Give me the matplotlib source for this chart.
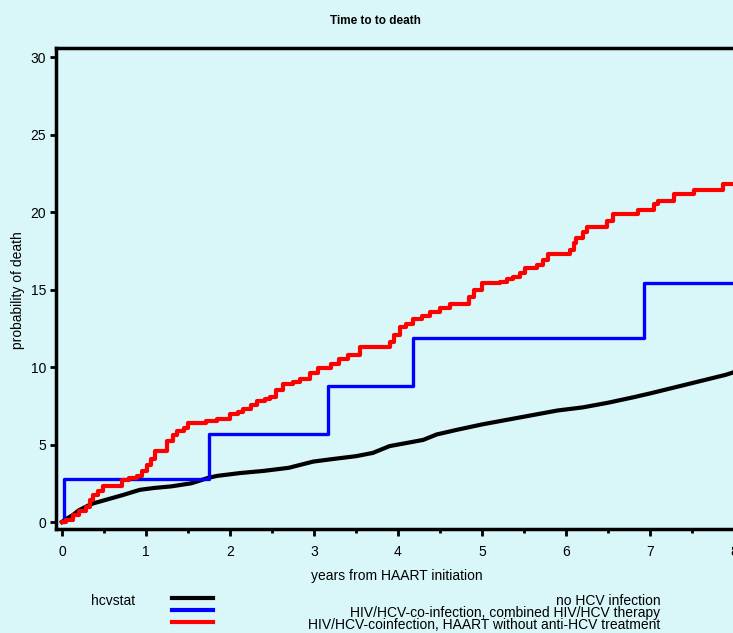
import matplotlib
matplotlib.use("Agg")
import matplotlib.pyplot as plt
from matplotlib.lines import Line2D

plt.rcParams['font.family'] = ['Liberation Sans', 'DejaVu Sans']

# Kaplan-Meier style curves (years, %)
no_hcv_t = [0, 0.05, 0.13, 0.2, 0.29, 0.37, 0.45, 0.6, 0.73, 0.85, 0.93, 1.1, 1.3,
            1.54, 1.6, 1.74, 1.85, 2.12, 2.4, 2.7, 2.99, 3.2, 3.5, 3.7, 3.9, 4.1,
            4.3, 4.46, 4.7, 5.0, 5.3, 5.6, 5.9, 6.2, 6.5, 6.8, 7.0, 7.3, 7.6, 7.9, 8.1]
no_hcv_p = [0, 0.2, 0.45, 0.75, 1.0, 1.2, 1.32, 1.55, 1.75, 1.95, 2.08, 2.2, 2.3,
            2.5, 2.6, 2.85, 2.98, 3.16, 3.3, 3.5, 3.9, 4.05, 4.25, 4.46, 4.9, 5.1,
            5.3, 5.65, 5.95, 6.3, 6.6, 6.9, 7.2, 7.4, 7.7, 8.05, 8.3, 8.7, 9.1, 9.5, 9.85]

combined_t = [0, 0.03, 1.75, 3.17, 4.18, 6.93, 8.2]
combined_p = [0, 2.8, 5.65, 8.75, 11.85, 15.4, 15.4]

haart_t = [0, 0.05, 0.13, 0.2, 0.29, 0.33, 0.37, 0.43, 0.49, 0.71, 0.8, 0.89, 0.95,
           1.01, 1.06, 1.11, 1.25, 1.32, 1.37, 1.45, 1.5, 1.72, 1.85, 2.0, 2.1, 2.16,
           2.25, 2.32, 2.42, 2.48, 2.55, 2.63, 2.75, 2.83, 2.95, 3.05, 3.2, 3.3, 3.4,
           3.55, 3.9, 3.95, 4.02, 4.1, 4.18, 4.28, 4.38, 4.5, 4.62, 4.84, 4.9, 5.0,
           5.21, 5.3, 5.37, 5.45, 5.51, 5.65, 5.72, 5.79, 6.05, 6.09, 6.12, 6.2, 6.25,
           6.49, 6.56, 6.86, 7.05, 7.1, 7.28, 7.52, 7.87, 8.2]
haart_p = [0, 0.15, 0.45, 0.7, 1.0, 1.4, 1.75, 2.0, 2.3, 2.7, 2.85, 2.95, 3.3,
           3.7, 4.1, 4.56, 5.2, 5.6, 5.86, 6.1, 6.4, 6.5, 6.65, 6.95, 7.1, 7.27,
           7.55, 7.8, 7.95, 8.1, 8.5, 8.9, 9.05, 9.2, 9.6, 9.95, 10.2, 10.5, 10.8,
           11.3, 11.6, 12.1, 12.58, 12.8, 13.1, 13.3, 13.55, 13.8, 14.1, 14.5, 15.0, 15.4,
           15.5, 15.7, 15.8, 16.1, 16.4, 16.6, 16.9, 17.3, 17.55, 18.0, 18.3, 18.7, 19.07,
           19.4, 19.9, 20.15, 20.5, 20.7, 21.2, 21.45, 21.8, 21.8]

labels = ["no HCV infection",
          "HIV/HCV-co-infection, combined HIV/HCV therapy",
          "HIV/HCV-coinfection, HAART without anti-HCV treatment"]
colors = ["#000000", "#0000ff", "#ff0000"]

bg = "#d9f7f9"
fig = plt.figure(figsize=(7.33, 6.33), dpi=100, facecolor=bg)
# axes runs past the right edge of the figure, as in the original export
ax = fig.add_axes([0.0764, 0.1638, 0.948, 0.760], facecolor=bg)

ax.plot(no_hcv_t, no_hcv_p, color=colors[0], lw=3, solid_joinstyle='miter')
ax.step(combined_t, combined_p, where='post', color=colors[1], lw=2.4)
ax.step(haart_t, haart_p, where='post', color=colors[2], lw=3)

ax.set_xlim(-0.07, 8.2)
ax.set_ylim(-0.47, 30.58)
ax.set_xticks(range(0, 9))
ax.set_xticks([0.5 + i for i in range(8)], minor=True)
ax.set_yticks(range(0, 31, 5))
ax.tick_params(axis='both', which='major', direction='out', width=2, labelsize=10,
               colors='black')
ax.tick_params(axis='x', which='major', length=5, pad=6)
ax.tick_params(axis='y', which='major', length=4, pad=3)
ax.tick_params(axis='x', which='minor', length=3, width=2)
for s in ['left', 'bottom', 'top']:
    ax.spines[s].set_linewidth(2.5)
ax.spines['right'].set_visible(False)

fig.text(0.512, 0.967, "Time to to death", ha='center', va='center',
         fontsize=8.5, fontweight='bold')
fig.text(0.542, 0.09, "years from HAART initiation", ha='center', va='center',
         fontsize=10)
fig.text(0.025, 0.542, "probability of death", ha='center', va='center',
         rotation=90, fontsize=10)

# legend at the bottom
fig.text(0.154, 0.051, "hcvstat", ha='center', va='center', fontsize=10)
leg_y = [0.055, 0.036, 0.017]
for lab, c, y in zip(labels, colors, leg_y):
    fig.add_artist(Line2D([0.235, 0.291], [y, y], color=c, lw=3,
                          transform=fig.transFigure))
    fig.text(0.901, y - 0.004, lab, ha='right', va='center', fontsize=10)

fig.savefig("out.png", dpi=100, facecolor=bg)
